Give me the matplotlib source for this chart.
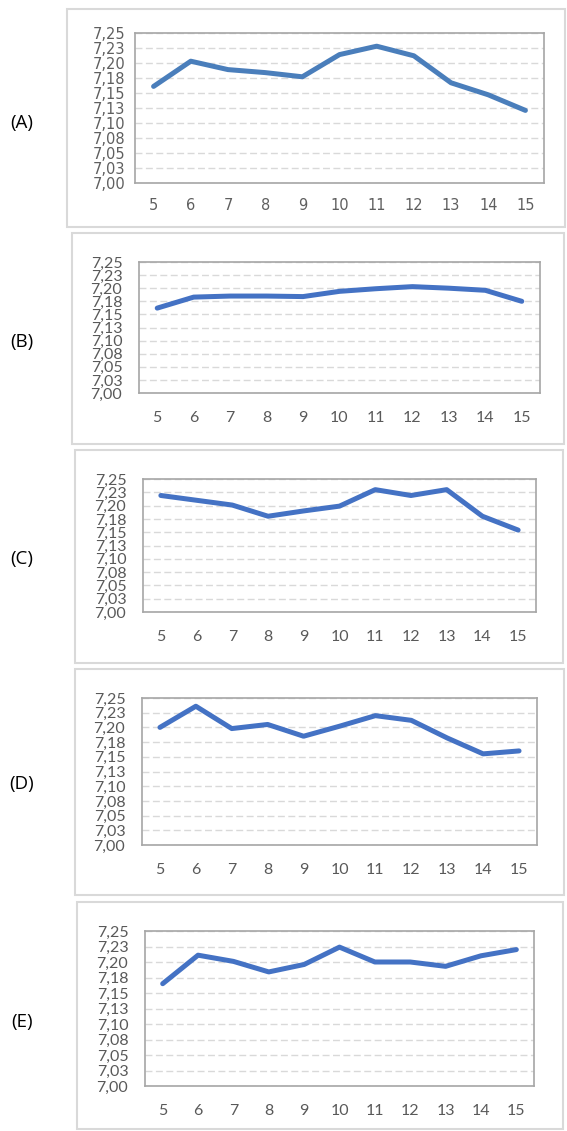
import matplotlib.pyplot as plt
from matplotlib.patches import Rectangle

# data
days = [5, 6, 7, 8, 9, 10, 11, 12, 13, 14, 15]
panel_labels = ['(A)', '(B)', '(C)', '(D)', '(E)']
ph_a = [7.161, 7.203, 7.189, 7.184, 7.177, 7.214, 7.228, 7.212, 7.167, 7.147, 7.121]
ph_b = [7.162, 7.183, 7.185, 7.185, 7.184, 7.194, 7.199, 7.203, 7.200, 7.196, 7.175]
ph_c = [7.219, 7.210, 7.201, 7.180, 7.190, 7.199, 7.230, 7.219, 7.230, 7.180, 7.154]
ph_d = [7.200, 7.236, 7.198, 7.205, 7.185, 7.202, 7.220, 7.212, 7.182, 7.155, 7.160]
ph_e = [7.165, 7.211, 7.201, 7.184, 7.196, 7.224, 7.200, 7.200, 7.193, 7.210, 7.220]
y_ticks = [7.0, 7.025, 7.05, 7.075, 7.1, 7.125, 7.15, 7.175, 7.2, 7.225, 7.25]
y_ticklabels = ['7,00', '7,03', '7,05', '7,08', '7,10', '7,13',
                '7,15', '7,18', '7,20', '7,23', '7,25']

W, H = 567, 1131
fig = plt.figure(figsize=(W / 100, H / 100), dpi=100)


def px_rect(x0, y0, x1, y1):
    # pixel box (top-left origin) -> figure fraction
    return [x0 / W, 1 - y1 / H, (x1 - x0) / W, (y1 - y0) / H]


def frame(x0, y0, x1, y1):
    l, b, w, h = px_rect(x0, y0, x1, y1)
    fig.patches.append(Rectangle((l, b), w, h, transform=fig.transFigure,
                                 fill=False, edgecolor='#d9d9d9', linewidth=1.5))


def chart(box, values, color, font, size, ypad, xpad, tcolor='#595959'):
    ax = fig.add_axes(px_rect(*box))
    ax.plot(days, values, color=color, linewidth=3.6, solid_joinstyle='round',
            solid_capstyle='round')
    ax.set_xlim(4.5, 15.5)
    ax.set_ylim(7.0, 7.25)
    ax.set_xticks(days)
    ax.set_xticklabels([str(d) for d in days], fontfamily=font, fontsize=size,
                       color=tcolor)
    ax.set_yticks(y_ticks)
    ax.set_yticklabels(y_ticklabels, fontfamily=font, fontsize=size,
                       color=tcolor)
    ax.tick_params(axis='both', length=0)
    ax.tick_params(axis='y', pad=ypad)
    ax.tick_params(axis='x', pad=xpad)
    ax.yaxis.grid(True, color='#d9d9d9', linestyle=(0, (5, 2.5)), linewidth=1)
    ax.set_axisbelow(True)
    for s in ax.spines.values():
        s.set_color('#a6a6a6')
        s.set_linewidth(1.2)
    return ax


frame(67, 9, 565, 227)
frame(72, 233, 564, 444)
frame(75, 450, 563, 663)
frame(75, 669, 564, 895)
frame(77, 902, 563, 1129)

chart((135, 33, 544, 183), ph_a, '#4a7ebb', 'DejaVu Sans', 10.5, 7, 10.5, '#5f5f5f')
chart((139, 262, 540, 393), ph_b, '#4472c4', 'Lato', 11.5, 12, 13)
chart((143, 479, 536, 612), ph_c, '#4472c4', 'Lato', 11.5, 12, 13)
chart((142, 698, 537, 845), ph_d, '#4472c4', 'Lato', 11.5, 12, 13)
chart((145, 931, 534, 1086), ph_e, '#4472c4', 'Lato', 11.5, 12, 13)

label_y = [123, 342, 559, 784, 1022]
for lab, yy in zip(panel_labels, label_y):
    fig.text(22 / W, 1 - yy / H, lab, ha='center', va='center',
             fontfamily='Open Sans', fontsize=13.5, color='black')

fig.savefig('out.png', dpi=100)
